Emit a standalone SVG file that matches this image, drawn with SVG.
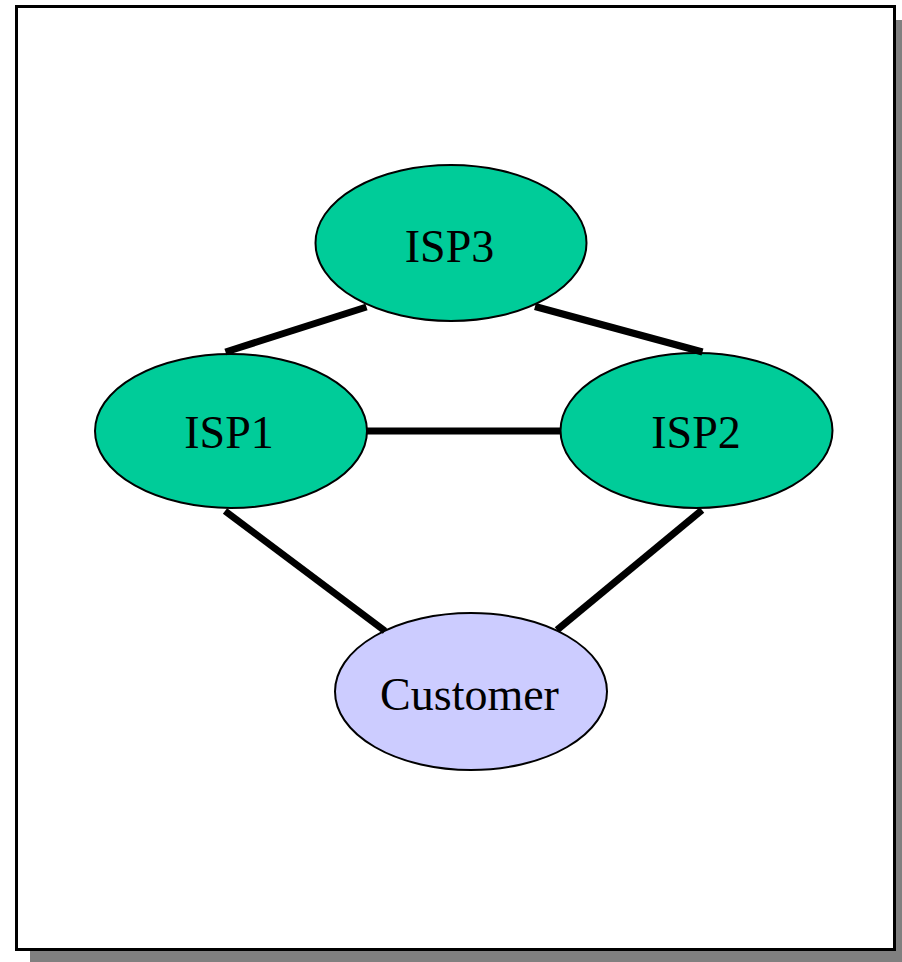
<svg xmlns="http://www.w3.org/2000/svg" width="902" height="962" viewBox="0 0 902 962">
<style>
.isp{fill:#00CC99;stroke:#000;stroke-width:2}
.cust{fill:#CCCCFF;stroke:#000;stroke-width:2}
.lbl{font-family:"Liberation Serif","Times New Roman",serif;font-size:46px;fill:#000;text-anchor:middle}
.link{stroke:#000;stroke-width:7;stroke-linecap:butt;fill:none}
</style>
<rect x="0" y="0" width="902" height="962" fill="#fff"/>
<rect id="shadow" x="30" y="20" width="880" height="942" fill="#808080"/>
<rect id="frame" x="16.5" y="6.5" width="878" height="943" fill="#fff" stroke="#000" stroke-width="3"/>
<g id="isp3"><ellipse class="isp" cx="451" cy="243" rx="135.5" ry="78"/><text class="lbl" x="449.5" y="262">ISP3</text></g>
<g id="isp1"><ellipse class="isp" cx="231" cy="431" rx="136" ry="77"/><text class="lbl" x="229" y="448">ISP1</text></g>
<g id="isp2"><ellipse class="isp" cx="696.5" cy="430.5" rx="136" ry="77.5"/><text class="lbl" x="696" y="448">ISP2</text></g>
<g id="customer"><ellipse class="cust" cx="471" cy="691.5" rx="136" ry="78.5"/><text class="lbl" x="469.5" y="710">Customer</text></g>
<g id="connectors">
<line class="link" x1="366.5" y1="307" x2="225.5" y2="352"/>
<line class="link" x1="535" y1="306.5" x2="702.5" y2="352"/>
<line class="link" x1="366.5" y1="431" x2="560.5" y2="431"/>
<line class="link" x1="225" y1="511" x2="385" y2="631"/>
<line class="link" x1="702" y1="510" x2="557" y2="630"/>
</g>
</svg>
